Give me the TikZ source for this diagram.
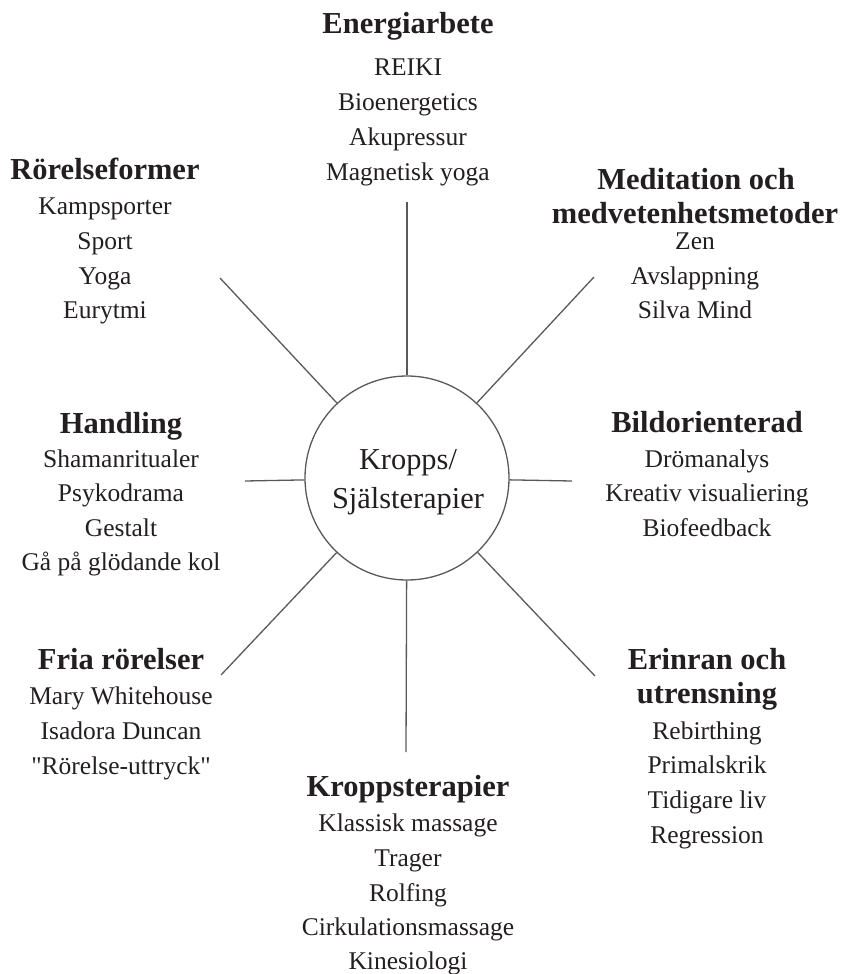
\documentclass[tikz,border=0pt]{standalone}
\usepackage{fontspec}
\setmainfont{Liberation Serif}[Ligatures=TeXOff]
\usepackage{tikz}

\definecolor{ink}{HTML}{231F20}
\definecolor{rule}{HTML}{58595B}

\tikzset{
  head/.style={anchor=base, inner sep=0pt, text=ink, font=\fontsize{30.5}{36}\selectfont\bfseries},
  item/.style={anchor=base, inner sep=0pt, text=ink, font=\fontsize{25.5}{30}\selectfont},
  hub/.style={anchor=base, inner sep=0pt, text=ink, font=\fontsize{30.4}{39}\selectfont},
  spoke/.style={draw=rule, line width=1.3pt},
}

\begin{document}
\begin{tikzpicture}[x=1pt,y=1pt,yscale=-1,xscale=1]
\useasboundingbox (0,0) rectangle (848,974);

%Flowchart: Connector
\node [circle, draw=rule, line width=1.3pt, minimum size=204pt, inner sep=0pt] (kropp) at (407,478) {};
% Text Node
\node [hub] (kropptxt1) at (408,469) {Kropps/};
\node [hub] (kropptxt2) at (408,508) {Själsterapier};

% free ends of the spokes
\coordinate (eN) at (407,202);
\coordinate (eNE) at (594,277);
\coordinate (eE) at (572,481);
\coordinate (eSE) at (595,676);
\coordinate (eS) at (406,752);
\coordinate (eSW) at (221,675);
\coordinate (eW) at (245,481);
\coordinate (eNW) at (220,278);

%Straight Lines
\draw [spoke] (kropp) -- (eN);
\draw [spoke] (kropp) -- (eNE);
\draw [spoke] (kropp) -- (eE);
\draw [spoke] (kropp) -- (eSE);
\draw [spoke] (kropp) -- (eS);
\draw [spoke] (kropp) -- (eSW);
\draw [spoke] (kropp) -- (eW);
\draw [spoke] (kropp) -- (eNW);

% Text Node
\node [head] (energi) at (408,34) {Energiarbete};
\node [item] (reiki) at (408,75) {REIKI};
\node [item] (bioenerg) at (408,110) {Bioenergetics};
\node [item] (akupress) at (408,145) {Akupressur};
\node [item] (magyoga) at (408,180) {Magnetisk yoga};
% Text Node
\node [head] (rorelse) at (105,179) {Rörelseformer};
\node [item] (kampsport) at (105,214) {Kampsporter};
\node [item] (sport) at (105,249) {Sport};
\node [item] (yoga) at (105,284) {Yoga};
\node [item] (eurytmi) at (105,318) {Eurytmi};
% Text Node
\node [head] (medit1) at (696,189) {Meditation och};
\node [head] (medit2) at (695,223) {medvetenhetsmetoder};
\node [item] (zen) at (695,249) {Zen};
\node [item] (avslapp) at (695,284) {Avslappning};
\node [item] (silva) at (695,318) {Silva Mind};
% Text Node
\node [head] (bild) at (707,432) {Bildorienterad};
\node [item] (drom) at (707,467) {Drömanalys};
\node [item] (kreativ) at (707,501) {Kreativ visualiering};
\node [item] (biofeed) at (707,536) {Biofeedback};
% Text Node
\node [head] (handling) at (121,433) {Handling};
\node [item] (shaman) at (121,467) {Shamanritualer};
\node [item] (psyko) at (121,501) {Psykodrama};
\node [item] (gestalt) at (121,536) {Gestalt};
\node [item] (glodande) at (121,570) {Gå på glödande kol};
% Text Node
\node [head] (fria) at (121,669) {Fria rörelser};
\node [item] (mary) at (121,704) {Mary Whitehouse};
\node [item] (isadora) at (121,739) {Isadora Duncan};
\node [item] (uttryck) at (121,774) {"Rörelse-uttryck"};
% Text Node
\node [head] (erinran1) at (707,669) {Erinran och};
\node [head] (erinran2) at (707,703) {utrensning};
\node [item] (rebirth) at (707,739) {Rebirthing};
\node [item] (primal) at (707,773) {Primalskrik};
\node [item] (tidigare) at (707,808) {Tidigare liv};
\node [item] (regress) at (707,843) {Regression};
% Text Node
\node [head] (kroppster) at (408,796) {Kroppsterapier};
\node [item] (klassisk) at (408,831) {Klassisk massage};
\node [item] (trager) at (408,866) {Trager};
\node [item] (rolfing) at (408,901) {Rolfing};
\node [item] (cirkul) at (408,935) {Cirkulationsmassage};
\node [item] (kinesio) at (408,969) {Kinesiologi};

\end{tikzpicture}
\end{document}
